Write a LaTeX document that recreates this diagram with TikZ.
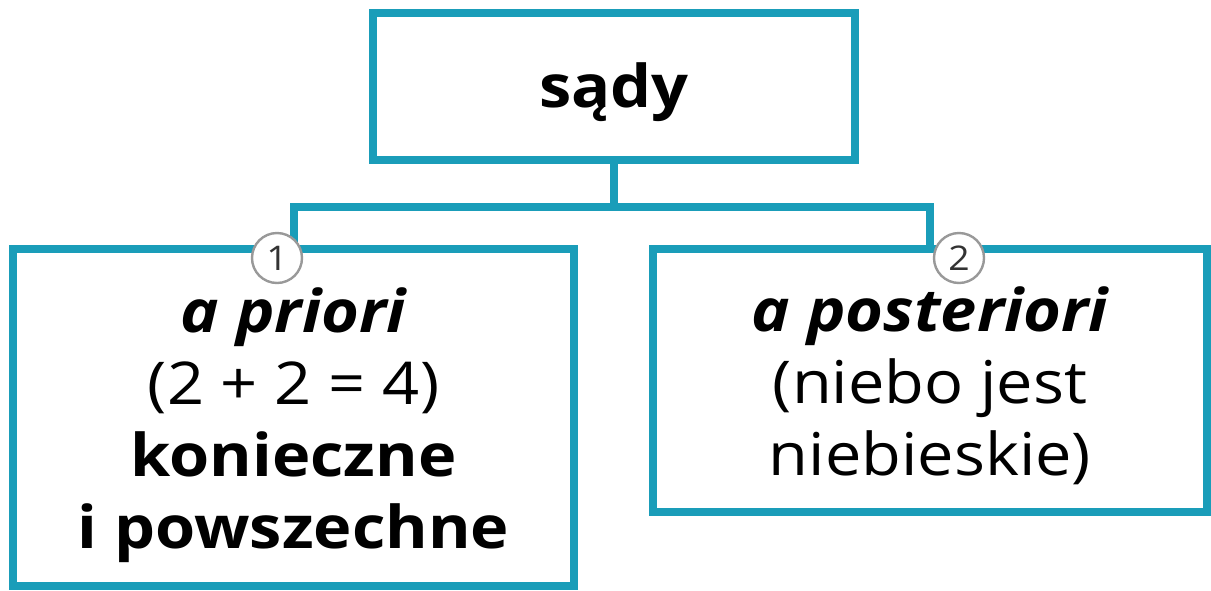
\documentclass[tikz,border=0pt]{standalone}
\usepackage{fontspec}
\setmainfont[FakeStretch=1.1]{Open Sans}
\usetikzlibrary{positioning}
\definecolor{tealline}{HTML}{1A9DB9}

\begin{document}
\begin{tikzpicture}[x=0.5pt, y=-0.5pt,
  box/.style={rectangle, draw=tealline, line width=4pt, fill=white, inner sep=0pt},
  link/.style={draw=tealline, line width=4pt},
  badge/.style={circle, draw=gray!80, line width=1.2pt, fill=white, minimum size=25pt,
    inner sep=0pt, text=black!80, font=\fontsize{17}{17}\selectfont},
  boxtext/.style={align=center, font=\fontsize{29.5}{36}\selectfont}]
  \useasboundingbox[fill=white] (0,0) rectangle (1211,590);

  % Top box - sady
  \node[box, minimum width=241.25pt, minimum height=73.5pt] (sady) at (613.75,86.5) {};
  \node[boxtext] (sadytext) at (613.75,92) {\bfseries sądy};

  % Left box - a priori
  \node[box, minimum width=280.5pt, minimum height=168.5pt] (prior) at (293.5,417.5) {};
  \node[boxtext] (priortext) at (293.5,425)
    {\bfseries\itshape a priori\\(2 + 2 = 4)\\\bfseries konieczne\\\bfseries i powszechne};

  % Right box - a posteriori
  \node[box, minimum width=277pt, minimum height=131.5pt] (posterior) at (930,380.5) {};
  \node[boxtext] (posteriortext) at (930,386)
    {\bfseries\itshape a posteriori\\(niebo jest\\niebieskie)};

  % Connectors
  \coordinate (fork) at (613.75,207);
  \draw[link] (sady.south) -- (fork);
  \draw[link] (prior.north) |- (fork) -| (posterior.north);

  % Numbered badges
  \node[badge] (one) at (277,258) {1};
  \node[badge] (two) at (959,258) {2};
\end{tikzpicture}
\end{document}
